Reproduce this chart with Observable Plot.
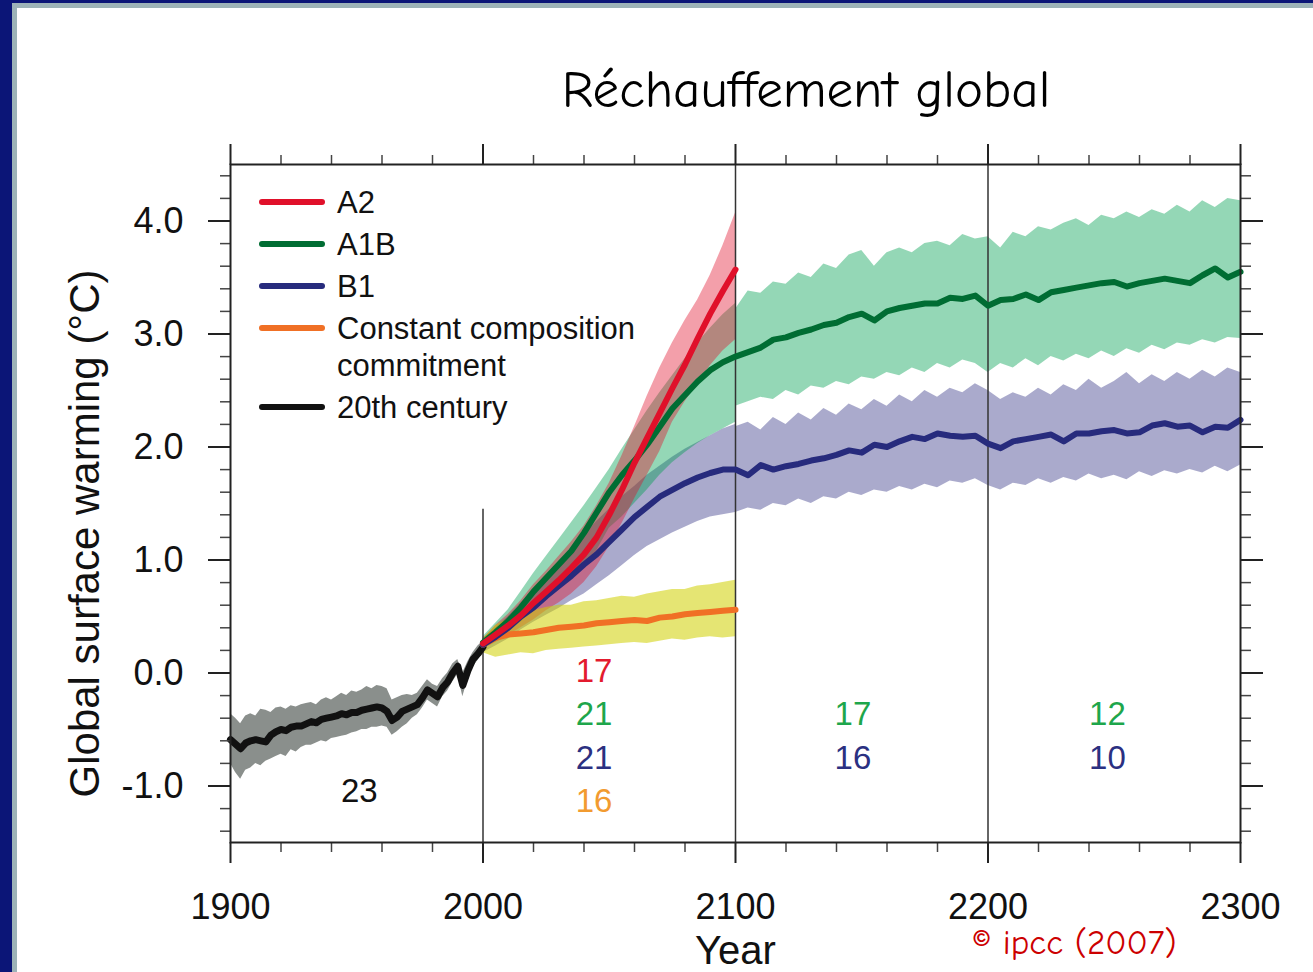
<!DOCTYPE html>
<html><head><meta charset="utf-8">
<script src="https://cdn.jsdelivr.net/npm/d3@7"></script>
<script src="https://cdn.jsdelivr.net/npm/@observablehq/plot@0.6"></script>
<style>
html,body{margin:0;padding:0;background:#fff;}
#page{position:relative;width:1313px;height:972px;background:#fff;overflow:hidden;}
.bar{position:absolute;}
#title{position:absolute;left:806px;top:60px;transform:translateX(-50%);white-space:nowrap;
  font-family:"Comic Sans MS","Comic Neue","DejaVu Sans",sans-serif;font-size:53px;line-height:60px;color:#000;}
#caption{position:absolute;left:972px;top:923px;white-space:nowrap;
  font-family:"Comic Sans MS","Comic Neue","DejaVu Sans",sans-serif;font-size:35px;line-height:40px;color:#cc0000;}
#chart{position:absolute;left:16px;top:130px;}
</style></head>
<body>
<div id="page">
  <div class="bar" style="left:0;top:0;width:12px;height:972px;background:#0b1577"></div>
  <div class="bar" style="left:12px;top:3px;width:5px;height:969px;background:#9db3b8"></div>
  <div class="bar" style="left:0;top:0;width:1313px;height:3px;background:#0b1577"></div>
  <div class="bar" style="left:12px;top:3px;width:1301px;height:5px;background:#9db3b8"></div>
  <div id="title">Réchauffement global</div>
  <div id="chart"></div>
  <div id="caption">© ipcc (2007)</div>
</div>
<script>
// ---------- data ----------
const titleText = "Réchauffement global";
const yLabel = "Global surface warming (°C)";
const xLabel = "Year";

const years20 = d3.range(1900, 2001, 2);
const hist = [-0.59,-0.63,-0.67,-0.62,-0.60,-0.59,-0.60,-0.61,-0.55,-0.52,
  -0.50,-0.51,-0.48,-0.47,-0.47,-0.45,-0.43,-0.44,-0.41,-0.40,
  -0.39,-0.38,-0.36,-0.37,-0.35,-0.35,-0.33,-0.32,-0.31,-0.30,
  -0.31,-0.34,-0.42,-0.39,-0.34,-0.32,-0.30,-0.28,-0.22,-0.15,
  -0.18,-0.21,-0.13,-0.08,0.00,0.06,-0.11,0.02,0.12,0.17,0.23];
const histHi = [-0.36,-0.40,-0.45,-0.38,-0.36,-0.38,-0.32,-0.33,-0.35,-0.31,
  -0.30,-0.32,-0.29,-0.30,-0.28,-0.27,-0.26,-0.28,-0.24,-0.22,
  -0.24,-0.21,-0.18,-0.20,-0.16,-0.17,-0.15,-0.12,-0.14,-0.11,
  -0.12,-0.14,-0.24,-0.22,-0.20,-0.19,-0.20,-0.18,-0.12,-0.06,
  -0.10,-0.12,-0.05,0.00,0.08,0.12,0.00,0.10,0.18,0.24,0.28];
const histLo = [-0.80,-0.88,-0.94,-0.86,-0.84,-0.80,-0.82,-0.78,-0.76,-0.74,
  -0.72,-0.74,-0.68,-0.70,-0.66,-0.64,-0.64,-0.62,-0.60,-0.61,
  -0.58,-0.57,-0.56,-0.55,-0.53,-0.52,-0.50,-0.50,-0.48,-0.48,
  -0.47,-0.48,-0.55,-0.52,-0.48,-0.45,-0.40,-0.37,-0.31,-0.24,
  -0.27,-0.30,-0.21,-0.16,-0.08,-0.01,-0.21,-0.06,0.05,0.11,0.18];

const years21 = d3.range(2000, 2101, 5);
const a2   = [0.26,0.34,0.42,0.51,0.62,0.72,0.82,0.93,1.05,1.20,1.40,1.62,1.86,2.08,2.30,2.52,2.73,2.96,3.18,3.38,3.57];
const a2Hi = [0.30,0.42,0.52,0.64,0.78,0.90,1.03,1.16,1.30,1.48,1.68,1.92,2.18,2.45,2.70,2.92,3.12,3.30,3.52,3.78,4.07];
const a2Lo = [0.21,0.27,0.33,0.40,0.47,0.55,0.62,0.70,0.80,0.94,1.12,1.32,1.54,1.75,1.96,2.22,2.40,2.56,2.72,2.85,2.95];
const a1b   = [0.27,0.36,0.46,0.58,0.72,0.84,0.96,1.08,1.24,1.42,1.60,1.75,1.88,2.02,2.18,2.34,2.46,2.58,2.68,2.75,2.80];
const a1bHi = [0.32,0.44,0.56,0.72,0.88,1.03,1.18,1.33,1.48,1.64,1.80,1.98,2.15,2.32,2.48,2.63,2.78,2.92,3.05,3.17,3.27];
const a1bLo = [0.22,0.28,0.36,0.45,0.55,0.65,0.75,0.85,0.95,1.08,1.28,1.38,1.50,1.62,1.75,1.86,1.95,2.03,2.10,2.16,2.22];
const b1   = [0.25,0.32,0.40,0.50,0.58,0.68,0.77,0.86,0.96,1.05,1.16,1.27,1.38,1.47,1.56,1.62,1.68,1.73,1.77,1.80,1.80];
const b1Hi = [0.30,0.40,0.50,0.62,0.74,0.86,0.98,1.10,1.22,1.34,1.45,1.56,1.65,1.75,1.83,1.91,1.98,2.04,2.10,2.16,2.20];
const b1Lo = [0.18,0.24,0.30,0.38,0.45,0.51,0.57,0.64,0.70,0.78,0.86,0.95,1.04,1.12,1.18,1.24,1.29,1.34,1.38,1.40,1.42];
const cc   = [0.25,0.31,0.34,0.35,0.36,0.38,0.40,0.41,0.42,0.44,0.45,0.46,0.47,0.46,0.49,0.50,0.52,0.53,0.54,0.55,0.56];
const ccHi = [0.30,0.42,0.48,0.52,0.55,0.58,0.60,0.60,0.63,0.64,0.66,0.68,0.67,0.70,0.72,0.74,0.74,0.77,0.78,0.80,0.82];
const ccLo = [0.18,0.14,0.16,0.18,0.17,0.20,0.21,0.22,0.23,0.24,0.25,0.26,0.27,0.26,0.28,0.30,0.29,0.31,0.32,0.31,0.32];

const years22 = d3.range(2100, 2301, 5);
const a1bLong = [2.80,2.84,2.88,2.95,2.97,3.01,3.04,3.08,3.10,3.15,3.18,3.12,3.20,3.23,3.25,3.27,3.27,3.32,3.31,3.34,
  3.25,3.30,3.31,3.35,3.30,3.37,3.39,3.41,3.43,3.45,3.46,3.42,3.45,3.47,3.49,3.47,3.45,3.52,3.58,3.50,3.55];
const a1bLongHi = [3.22,3.38,3.36,3.46,3.44,3.54,3.50,3.62,3.58,3.70,3.74,3.60,3.72,3.76,3.72,3.80,3.82,3.78,3.88,3.84,
  3.86,3.76,3.90,3.86,3.95,3.92,3.98,4.02,3.96,4.05,4.02,4.08,4.03,4.10,4.06,4.14,4.08,4.18,4.12,4.20,4.18];
const a1bLongLo = [2.36,2.40,2.44,2.42,2.50,2.46,2.54,2.52,2.58,2.55,2.62,2.60,2.66,2.63,2.70,2.66,2.74,2.70,2.77,2.74,
  2.66,2.74,2.70,2.78,2.72,2.80,2.76,2.82,2.78,2.85,2.80,2.87,2.83,2.90,2.86,2.92,2.90,2.95,2.92,2.97,2.96];
const b1Long = [1.80,1.75,1.84,1.80,1.83,1.85,1.88,1.90,1.93,1.97,1.95,2.02,2.00,2.05,2.09,2.07,2.12,2.10,2.09,2.10,
  2.03,1.99,2.05,2.07,2.09,2.11,2.05,2.12,2.12,2.14,2.15,2.12,2.13,2.19,2.21,2.18,2.19,2.13,2.18,2.17,2.24];
const b1LongHi = [2.18,2.22,2.15,2.26,2.20,2.30,2.24,2.34,2.28,2.38,2.33,2.42,2.36,2.46,2.40,2.50,2.44,2.52,2.48,2.56,
  2.50,2.42,2.48,2.44,2.52,2.46,2.55,2.50,2.60,2.52,2.58,2.66,2.56,2.64,2.58,2.66,2.60,2.68,2.62,2.70,2.66];
const b1LongLo = [1.42,1.46,1.44,1.50,1.48,1.54,1.50,1.56,1.54,1.60,1.57,1.62,1.60,1.65,1.62,1.67,1.64,1.70,1.68,1.72,
  1.66,1.62,1.68,1.66,1.72,1.68,1.73,1.70,1.76,1.72,1.75,1.71,1.78,1.74,1.79,1.76,1.80,1.77,1.83,1.78,1.84];

const dividerYears = [2000, 2100, 2200];
const dividerTops = [1.45, 4.5, 4.5];

const legendNames = ["A2", "A1B", "B1", "Constant composition\ncommitment", "20th century"];
const countLabels = ["23", "17", "21", "21", "16", "17", "16", "12", "10"];
const countPeriods = [1900, 2000, 2000, 2000, 2000, 2100, 2100, 2200, 2200];
const countSeries = ["20th century", "A2", "A1B", "B1", "Constant composition\ncommitment", "A1B", "B1", "A1B", "B1"];

const xTickValues = [1900, 2000, 2100, 2200, 2300];
const yTickValues = [-1, 0, 1, 2, 3, 4];

// ---------- styling ----------
const lineColor = {"A2": "#e0102a", "A1B": "#006d33", "B1": "#272b7d", "Constant composition\ncommitment": "#f07025", "20th century": "#111111"};
const countColor = {"A2": "#e31b2e", "A1B": "#1ea64b", "B1": "#2b3081", "Constant composition\ncommitment": "#f29b30", "20th century": "#111111"};
const countRowDy = {"A2": -171, "A1B": -128, "B1": -84, "Constant composition\ncommitment": -41, "20th century": -51};
const countNudge = {1900: 1, 2000: -6, 2100: -3.5, 2200: -2.7};

const rows = (ys, v, lo, hi) => ys.map((year, i) => ({year, v: v[i], lo: lo[i], hi: hi[i]}));
const histRows = rows(years20, hist, histLo, histHi);
const a2Rows = rows(years21, a2, a2Lo, a2Hi);
const ccRows = rows(years21, cc, ccLo, ccHi);
const a1bRows = rows(years21, a1b, a1bLo, a1bHi).concat(rows(years22, a1bLong, a1bLongLo, a1bLongHi));
const b1Rows = rows(years21, b1, b1Lo, b1Hi).concat(rows(years22, b1Long, b1LongLo, b1LongHi));
const dividers = dividerYears.map((year, i) => ({year, top: dividerTops[i]}));
const counts = countLabels.map((label, i) => ({label, period: countPeriods[i], series: countSeries[i]}));

const minorX = d3.range(1900, 2301, 20).filter(d => d % 100 !== 0);
const minorY = d3.range(-14, 45, 2).map(d => d / 10).filter(d => Math.abs(d - Math.round(d)) > 1e-6);

const FONT = "'Liberation Sans', Arial, Helvetica, sans-serif";
const band = (data, fill, op) => Plot.areaY(data, {x: "year", y1: "lo", y2: "hi", fill, fillOpacity: op, curve: "linear"});
const line = (data, name, w = 6) => Plot.line(data, {x: "year", y: "v", stroke: lineColor[name], strokeWidth: w, strokeLinejoin: "round", strokeLinecap: "round"});
const blank = () => "";

const countMarks = Object.keys(countRowDy).map(series => Plot.text(counts.filter(d => d.series === series), {
  x: d => d.period + 50 + countNudge[d.period], text: "label", frameAnchor: "bottom", dy: countRowDy[series],
  fill: countColor[series], fontSize: 33, lineAnchor: "middle", textAnchor: "middle"
}));

const chart = Plot.plot({
  width: 1297, height: 842,
  marginLeft: 214, marginRight: 73, marginTop: 34, marginBottom: 130,
  style: {background: "transparent", fontFamily: FONT, color: "#111", overflow: "visible"},
  x: {domain: [1900, 2300]},
  y: {domain: [-1.5, 4.5]},
  marks: [
    band(histRows, "#8a8f8c", 1),
    band(b1Rows, "#2a2a80", 0.4),
    band(a1bRows, "#00a050", 0.42),
    band(a2Rows, "#e0102a", 0.4),
    band(ccRows, "#d0d000", 0.55),
    Plot.ruleX(dividers, {x: "year", y1: -1.5, y2: "top", stroke: "#333", strokeWidth: 1.5}),
    line(histRows, "20th century", 7),
    line(ccRows, "Constant composition\ncommitment"),
    line(b1Rows, "B1"),
    line(a1bRows, "A1B"),
    line(a2Rows, "A2"),
    ...countMarks,
    Plot.text([yLabel], {frameAnchor: "left", rotate: -90, dx: -145, dy: 30, fontSize: 42, fill: "#111", textAnchor: "middle", lineAnchor: "middle"}),
    Plot.text([xLabel], {frameAnchor: "bottom", dy: 109, fontSize: 40, fill: "#111", textAnchor: "middle", lineAnchor: "middle"}),
    Plot.axisX({anchor: "bottom", ticks: xTickValues, tickSize: 21, tickPadding: 30, fontSize: 36, tickFormat: d => String(d), label: null, stroke: "#222", strokeWidth: 2}),
    Plot.axisX({anchor: "bottom", ticks: minorX, tickSize: 10, tickFormat: blank, label: null, stroke: "#444", strokeWidth: 1.5}),
    Plot.axisX({anchor: "top", ticks: xTickValues, tickSize: 21, tickFormat: blank, label: null, stroke: "#222", strokeWidth: 2}),
    Plot.axisX({anchor: "top", ticks: minorX, tickSize: 10, tickFormat: blank, label: null, stroke: "#444", strokeWidth: 1.5}),
    Plot.axisY({anchor: "left", ticks: yTickValues, tickSize: 22, tickPadding: 25, fontSize: 36, tickFormat: d => d.toFixed(1), label: null, stroke: "#222", strokeWidth: 2}),
    Plot.axisY({anchor: "left", ticks: minorY, tickSize: 10, tickFormat: blank, label: null, stroke: "#444", strokeWidth: 1.5}),
    Plot.axisY({anchor: "right", ticks: yTickValues, tickSize: 22, tickFormat: blank, label: null, stroke: "#222", strokeWidth: 2}),
    Plot.axisY({anchor: "right", ticks: minorY, tickSize: 10, tickFormat: blank, label: null, stroke: "#444", strokeWidth: 1.5}),
    Plot.frame({stroke: "#222", strokeWidth: 2})
  ]
});
document.getElementById("chart").appendChild(chart);

// legend (inside the plot frame, top-left)
const lg = d3.select(chart).append("g").attr("font-family", FONT).attr("font-size", 31)
  .attr("fill", "#111").attr("text-anchor", "start");
let ly = 72;
legendNames.forEach(name => {
  const lines = name.split("\n");
  lg.append("line").attr("x1", 246).attr("x2", 306).attr("y1", ly).attr("y2", ly)
    .attr("stroke", lineColor[name]).attr("stroke-width", 6).attr("stroke-linecap", "round");
  lines.forEach((t, k) => lg.append("text").attr("x", 321).attr("y", ly + 37 * k).attr("dy", "0.35em").text(t));
  ly += 42 + 37 * (lines.length - 1);
});
document.getElementById("title").textContent = titleText;
</script>
</body></html>
